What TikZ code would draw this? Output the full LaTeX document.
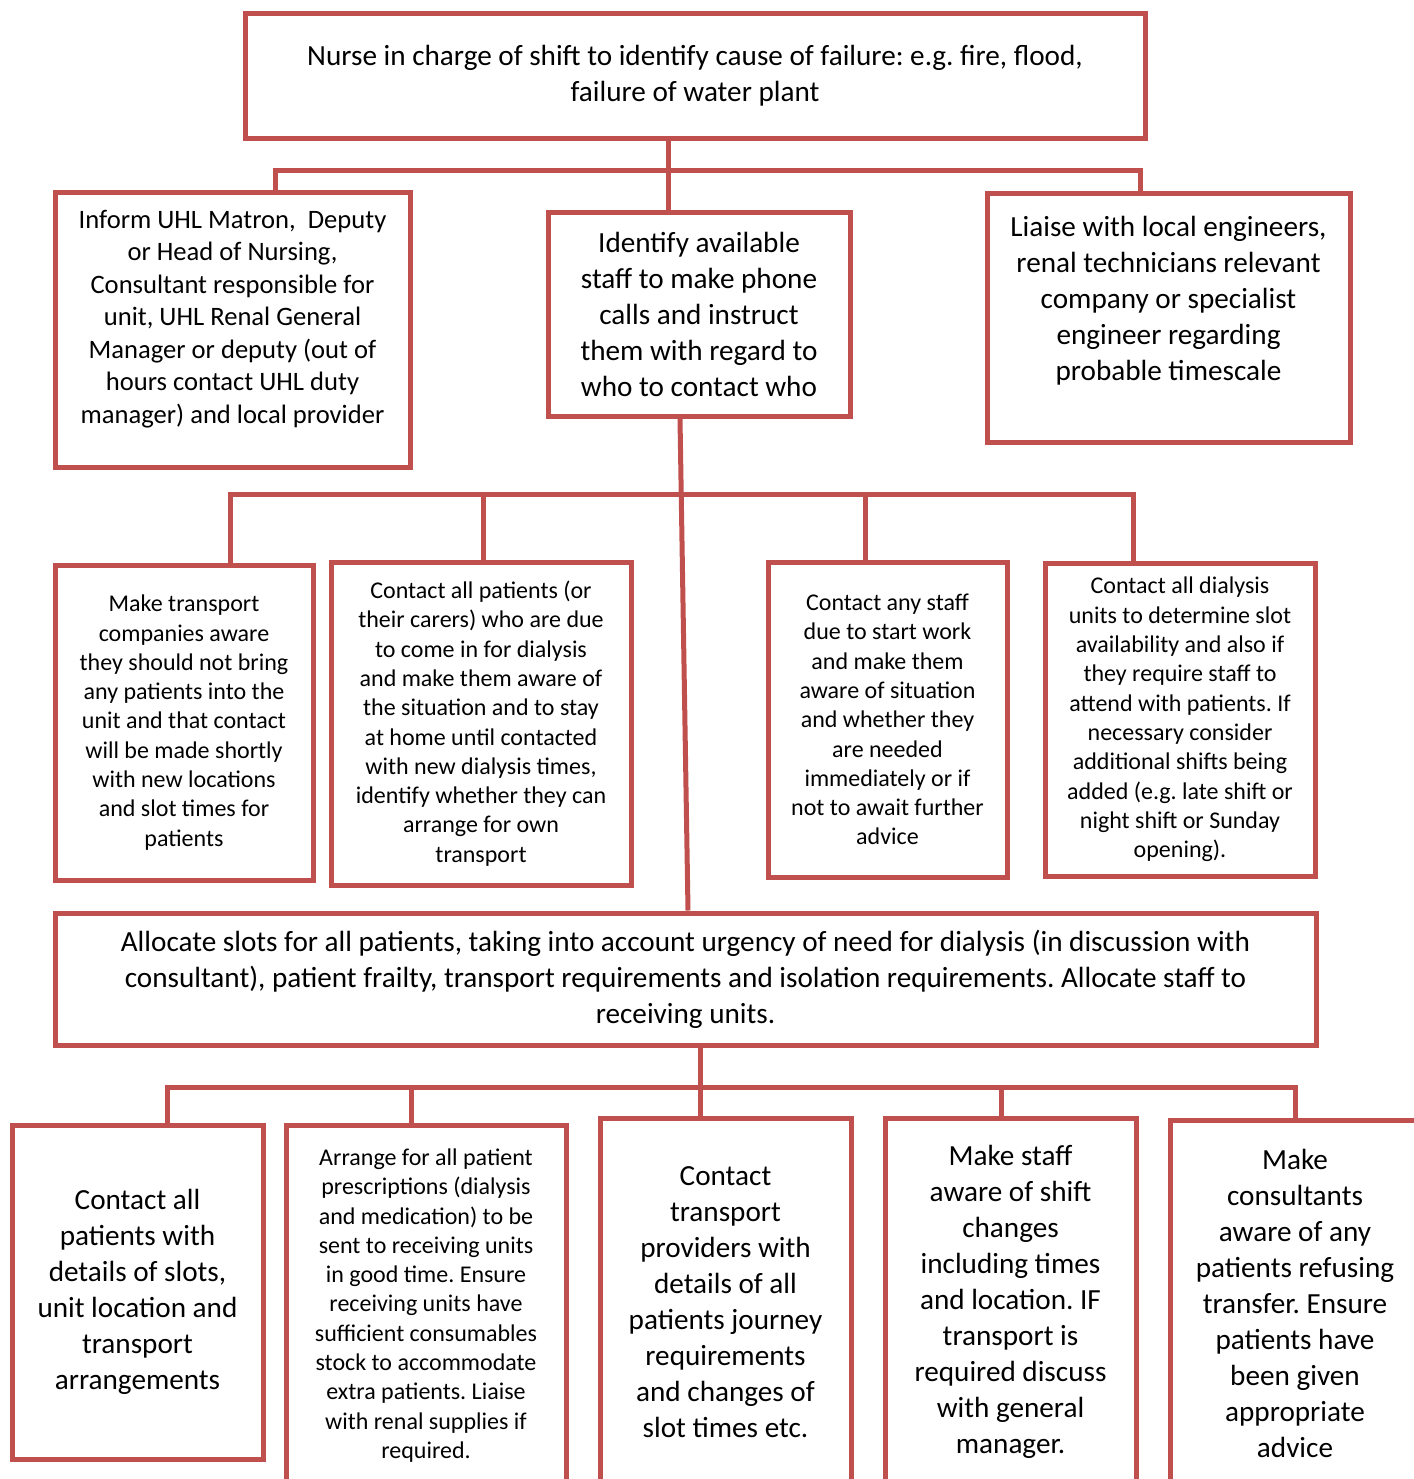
\documentclass[tikz,border=0pt]{standalone}
\usepackage{fontspec}
\setmainfont{Carlito}
\usepackage{tikz}
\definecolor{UHL-RED}{RGB}{192,80,77}
\frenchspacing

\begin{document}
\begin{tikzpicture}[x=0.5pt,y=-0.5pt,
		box/.style={draw=UHL-RED,line width=2.5pt,align=center,inner sep=0pt,
			execute at begin node={\rule{0pt}{1.2em}}},
		link/.style={draw=UHL-RED,line width=2.5pt},
		big/.style={font=\fontsize{14.6}{18}\selectfont},
		mid/.style={font=\fontsize{13.3}{16.25}\selectfont},
		small/.style={font=\fontsize{12}{14.65}\selectfont}]
			% page
			\useasboundingbox (0,0) rectangle (1414,1479);
			\clip (0,0) rectangle (1414,1479);

			% draw nodes
			\node (failure) at (695,75.5) [box,big,minimum width=450pt,minimum height=62.5pt] {Nurse in charge of shift to identify cause of failure: e.g. fire, flood,\\ failure of water plant};
			\node (inform) at (232.5,329.5) [box,mid,minimum width=177.5pt,minimum height=137.5pt] {Inform UHL Matron,~ Deputy\\ or Head of Nursing,\\ Consultant responsible for\\ unit, UHL Renal General\\ Manager or deputy (out of\\ hours contact UHL duty\\ manager) and local provider\rule[-13pt]{0pt}{13pt}};
			\node (staff) at (699,314) [box,big,minimum width=151pt,minimum height=102pt] {Identify available\\ staff to make phone\\ calls and instruct\\ them with regard to\\ who to contact who};
			\node (liaise) at (1168.5,317.5) [box,big,minimum width=181.5pt,minimum height=124.5pt] {Liaise with local engineers,\\ renal technicians relevant\\ company or specialist\\ engineer regarding\\ probable timescale\rule[-19pt]{0pt}{19pt}};

			\node (transport) at (184,722.5) [box,small,minimum width=129pt,minimum height=157.5pt] {Make transport\\ companies aware\\ they should not bring\\ any patients into the\\ unit and that contact\\ will be made shortly\\ with new locations\\ and slot times for\\ patients};
			\node (patients) at (481,723.5) [box,small,minimum width=150pt,minimum height=161.5pt] {Contact all patients (or\\ their carers) who are due\\ to come in for dialysis\\ and make them aware of\\ the situation and to stay\\ at home until contacted\\ with new dialysis times,\\ identify whether they can\\ arrange for own\\ transport};
			\node (contactstaff) at (887.5,719.5) [box,small,minimum width=119.5pt,minimum height=157.5pt] {Contact any staff\\ due to start work\\ and make them\\ aware of situation\\ and whether they\\ are needed\\ immediately or if\\ not to await further\\ advice};
			\node (units) at (1180,719.5) [box,small,minimum width=135pt,minimum height=156.5pt] {Contact all dialysis\\ units to determine slot\\ availability and also if\\ they require staff to\\ attend with patients. If\\ necessary consider\\ additional shifts being\\ added (e.g. late shift or\\ night shift or Sunday\\ opening).};

			\node (allocate) at (685.5,979) [box,big,minimum width=630.5pt,minimum height=66pt] {Allocate slots for all patients, taking into account urgency of need for dialysis (in discussion with\\ consultant), patient frailty, transport requirements and isolation requirements. Allocate staff to\\ receiving units.};

			\node (slots) at (137.5,1292) [box,big,minimum width=125.5pt,minimum height=167pt] {Contact all\\ patients with\\ details of slots,\\ unit location and\\ transport\\ arrangements};
			\node (prescriptions) at (426,1305.5) [box,small,minimum width=140pt,minimum height=180.5pt] {Arrange for all patient\\ prescriptions (dialysis\\ and medication) to be\\ sent to receiving units\\ in good time. Ensure\\ receiving units have\\ sufficient consumables\\ stock to accommodate\\ extra patients. Liaise\\ with renal supplies if\\ required.};
			\node (providers) at (725.5,1302) [box,big,minimum width=125.5pt,minimum height=184pt] {Contact\\ transport\\ providers with\\ details of all\\ patients journey\\ requirements\\ and changes of\\ slot times etc.};
			\node (shiftchanges) at (1010.5,1302) [box,big,minimum width=125.5pt,minimum height=184pt] {Make staff\\ aware of shift\\ changes\\ including times\\ and location. IF\\ transport is\\ required discuss\\ with general\\ manager.};
			\node (consultants) at (1295,1303) [box,big,minimum width=125pt,minimum height=183pt] {Make\\ consultants\\ aware of any\\ patients refusing\\ transfer. Ensure\\ patients have\\ been given\\ appropriate\\ advice};

			% draw connectors
			\coordinate (topL) at (275,170);
			\coordinate (topM) at (668,170);
			\coordinate (topR) at (1140,170);
			\draw[link] (failure.south -| topM) -- (staff.north -| topM);
			\draw[link] (inform.north -| topL) -- (topL) -- (topR) -- (liaise.north -| topR);

			\coordinate (midA) at (230,494);
			\coordinate (midB) at (483,494);
			\coordinate (midC) at (865,494);
			\coordinate (midD) at (1133,494);
			\draw[link] ([xshift=-9.5pt]staff.south) -- ([xshift=1.25pt]allocate.north);
			\draw[link] (transport.north -| midA) -- (midA) -- (midD) -- (units.north -| midD);
			\draw[link] (midB) -- (patients.north -| midB);
			\draw[link] (midC) -- (contactstaff.north -| midC);

			\coordinate (lowE) at (167,1087);
			\coordinate (lowF) at (411,1087);
			\coordinate (lowG) at (700,1087);
			\coordinate (lowH) at (1001,1087);
			\coordinate (lowI) at (1295,1087);
			\draw[link] (allocate.south -| lowG) -- (providers.north -| lowG);
			\draw[link] (slots.north -| lowE) -- (lowE) -- (lowI) -- (consultants.north -| lowI);
			\draw[link] (lowF) -- (prescriptions.north -| lowF);
			\draw[link] (lowH) -- (shiftchanges.north -| lowH);
\end{tikzpicture}
\end{document}
